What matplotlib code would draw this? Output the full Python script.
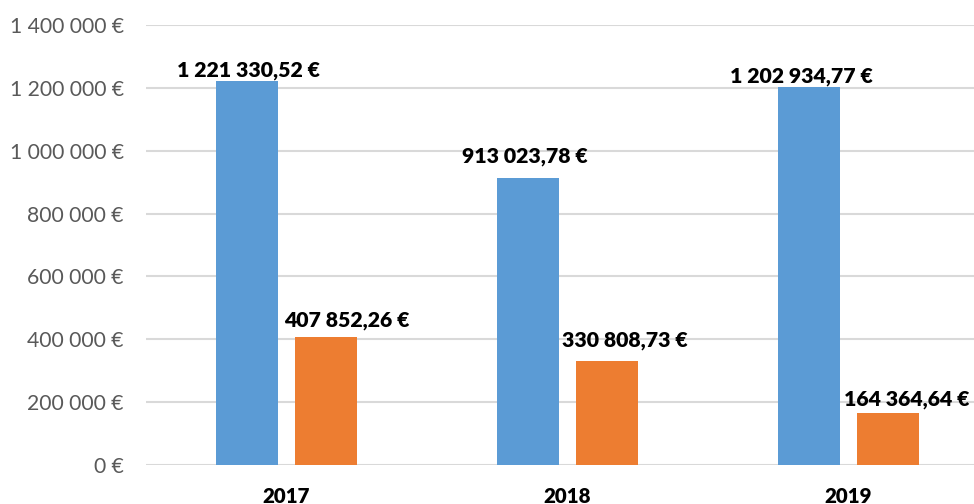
import matplotlib
matplotlib.use("Agg")
import matplotlib.pyplot as plt
import numpy as np

years = ["2017", "2018", "2019"]
series_blue = [1221330.52, 913023.78, 1202934.77]
series_orange = [407852.26, 330808.73, 164364.64]
blue_labels = ["1 221 330,52 €", "913 023,78 €", "1 202 934,77 €"]
orange_labels = ["407 852,26 €", "330 808,73 €", "164 364,64 €"]
y_ticks = [0, 200000, 400000, 600000, 800000, 1000000, 1200000, 1400000]
y_tick_labels = ["0 €", "200 000 €", "400 000 €", "600 000 €", "800 000 €",
                 "1 000 000 €", "1 200 000 €", "1 400 000 €"]

# label offsets (pixels) relative to bar top centre: (dx, dy)
blue_offsets = [(2, 5), (-3, 16), (-8, 4)]
orange_offsets = [(21, 10), (17.5, 15), (19, 8)]

plt.rcParams['font.family'] = ['Lato', 'DejaVu Sans']

fig = plt.figure(figsize=(9.74, 5.04), dpi=100)
ax = fig.add_axes([146/974, 39/504, 1 - 146/974, (465-25)/504])

x = np.arange(len(years))
w = 0.224
off = 0.1406
b1 = ax.bar(x - off, series_blue, width=w, color="#5B9BD5", zorder=3)
b2 = ax.bar(x + off, series_orange, width=w, color="#ED7D31", zorder=3)

px = 72 / 100
for rects, labels, offs in ((b1, blue_labels, blue_offsets), (b2, orange_labels, orange_offsets)):
    for r, lab, (dx, dy) in zip(rects, labels, offs):
        ax.annotate(lab, (r.get_x() + r.get_width()/2, r.get_height()),
                    xytext=(dx*px, dy*px), textcoords="offset points",
                    ha="center", va="baseline", fontsize=15.3, fontweight="heavy",
                    color="black", zorder=4, annotation_clip=False)

ax.set_ylim(0, 1400000)
ax.set_xlim(-0.5, (974-146)/281 - 0.5)
ax.set_yticks(y_ticks)
ax.set_yticklabels(y_tick_labels, fontsize=15.2, color="#595959")
ax.set_xticks(x)
ax.set_xticklabels(years, fontsize=14.8, fontweight="heavy", color="black")
ax.tick_params(axis="y", length=0, pad=16)
ax.tick_params(axis="x", length=0, pad=15.5)
ax.grid(axis="y", color="#D9D9D9", linewidth=1.5, zorder=0)
for s in ax.spines.values():
    s.set_visible(False)

fig.savefig("out.png", dpi=100)
